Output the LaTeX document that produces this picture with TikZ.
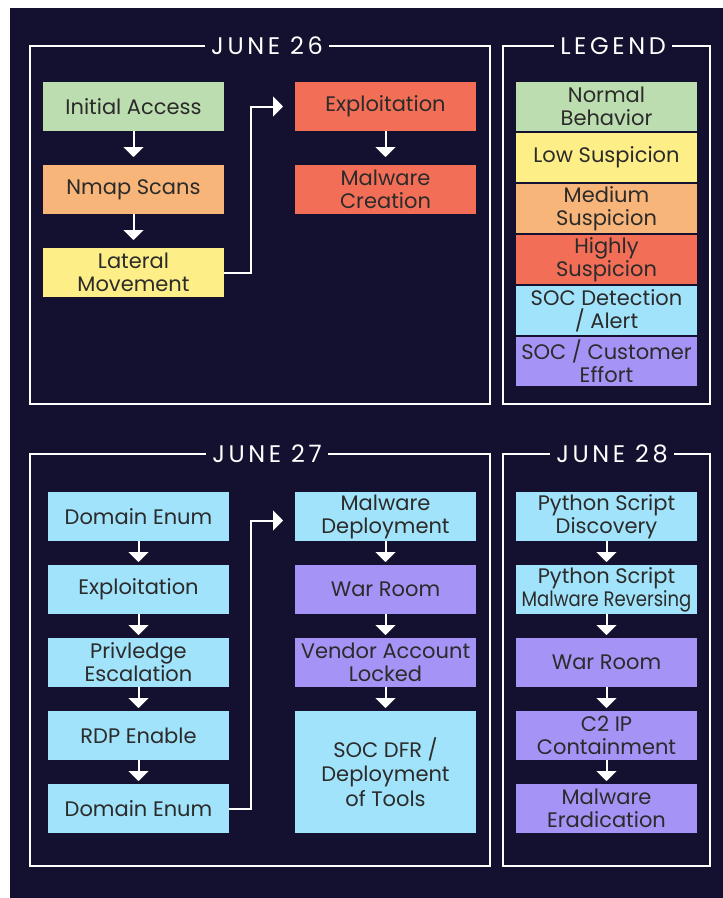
\documentclass[tikz,border=0pt]{standalone}
\usepackage{fontspec}
\setmainfont{Poppins}
\newfontfamily\titlefont[LetterSpace=15]{Poppins}
\usetikzlibrary{positioning,arrows.meta}

\definecolor{bgnavy}{HTML}{141130}
\definecolor{boxtext}{HTML}{2B2B2B}
\definecolor{normal}{HTML}{BCDDB0}
\definecolor{low}{HTML}{FEEE87}
\definecolor{medium}{HTML}{F8B579}
\definecolor{high}{HTML}{F26E56}
\definecolor{soc}{HTML}{A1E3FA}
\definecolor{effort}{HTML}{A593F5}

\begin{document}
\begin{tikzpicture}[x=1pt,y=1pt,node distance=24pt,
    box/.style={minimum width=181pt, minimum height=49pt, inner sep=0pt, outer sep=0pt,
        align=center, text=boxtext, font=\fontsize{21}{23}\selectfont},
    frame/.style={draw=white, line width=1.8pt},
    datetitle/.style={fill=bgnavy, text=white, inner xsep=6pt, inner ysep=2pt,
        font=\titlefont\fontsize{24}{24}\selectfont},
    flow/.style={draw=white, line width=2pt, -{Triangle[width=20pt,length=10pt]}, shorten >=3pt}]
    \useasboundingbox (0,0) rectangle (723,-898);
    \fill[bgnavy] (10,-8) rectangle (723,-898);

    % frames
    \draw[frame] (30,-46) rectangle (490,-404);
    \draw[frame] (503,-46) rectangle (710,-404);
    \draw[frame] (30,-454) rectangle (490,-866);
    \draw[frame] (503,-454) rectangle (710,-866);
    \node[datetitle] (t26) at (267,-46) {JUNE 26};
    \node[datetitle] (tleg) at (613,-46) {LEGEND};
    \node[datetitle] (t27) at (267,-454) {JUNE 27};
    \node[datetitle] (t28) at (612,-454) {JUNE 28};

    % june 26
    \node[box, fill=normal] (init) at (133.5,-106.5) {Initial Access};
    \node[box, fill=medium, below=34pt of init] (nmap) {Nmap Scans};
    \node[box, fill=low, below=34pt of nmap] (lateral) {Lateral\\Movement};
    \node[box, fill=high] (exploit) at (385.5,-106.5) {Exploitation};
    \node[box, fill=high, below=34pt of exploit] (creation) {Malware\\Creation};
    \draw[flow, shorten >=8pt] (init) -- (nmap);
    \draw[flow, shorten >=8pt] (nmap) -- (lateral);
    \draw[flow, shorten >=8pt] (exploit) -- (creation);
    \draw[flow, shorten >=12pt] (lateral.east) -- ++(27,0) |- (exploit.west);

    % legend
    \node[box, fill=normal] (lnormal) at (606.5,-106.5) {Normal\\Behavior};
    \node[box, fill=low, below=2pt of lnormal] (llow) {Low Suspicion};
    \node[box, fill=medium, below=2pt of llow] (lmedium) {Medium\\Suspicion};
    \node[box, fill=high, below=2pt of lmedium] (lhigh) {Highly\\Suspicion};
    \node[box, fill=soc, below=2pt of lhigh] (lsoc) {SOC Detection\\/ Alert};
    \node[box, fill=effort, below=2pt of lsoc] (leffort) {SOC / Customer\\Effort};

    % june 27
    \node[box, fill=soc] (enum) at (138.5,-516.5) {Domain Enum};
    \node[box, fill=soc, below=of enum] (exploit2) {Exploitation};
    \node[box, fill=soc, below=of exploit2] (privesc) {Privledge\\Escalation};
    \node[box, fill=soc, below=of privesc] (rdp) {RDP Enable};
    \node[box, fill=soc, below=of rdp] (enum2) {Domain Enum};
    \node[box, fill=soc] (deploy) at (385.5,-516.5) {Malware\\Deployment};
    \node[box, fill=effort, below=of deploy] (warroom) {War Room};
    \node[box, fill=effort, below=of warroom] (vendor) {Vendor Account\\Locked};
    \node[box, fill=soc, below=of vendor, minimum height=122pt,
        font=\fontsize{21}{24.5}\selectfont] (dfr) {SOC DFR /\\Deployment\\of Tools};
    \foreach \a/\b in {enum/exploit2, exploit2/privesc, privesc/rdp, rdp/enum2,
        deploy/warroom, warroom/vendor, vendor/dfr}
        \draw[flow] (\a) -- (\b);
    \draw[flow, shorten >=12pt] (enum2.east) -- ++(22,0) |- ([yshift=-4pt]deploy.west);

    % june 28
    \node[box, fill=soc] (pydisc) at (606.5,-516.5) {Python Script\\Discovery};
    \node[box, fill=soc, below=of pydisc] (pyrev) {Python Script\\\scalebox{0.86}[1]{Malware Reversing}};
    \node[box, fill=effort, below=of pyrev] (warroom2) {War Room};
    \node[box, fill=effort, below=of warroom2] (c2) {C2 IP\\Containment};
    \node[box, fill=effort, below=of c2] (erad) {Malware\\Eradication};
    \foreach \a/\b in {pydisc/pyrev, pyrev/warroom2, warroom2/c2, c2/erad}
        \draw[flow] (\a) -- (\b);
\end{tikzpicture}
\end{document}
